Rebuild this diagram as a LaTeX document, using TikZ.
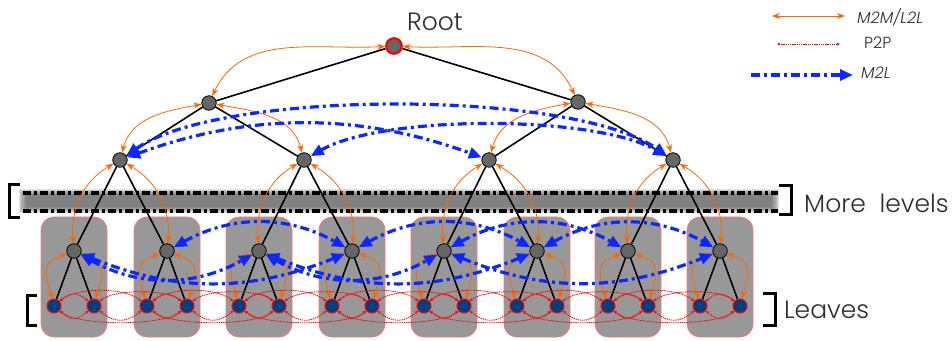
\documentclass[tikz,border=0pt]{standalone}
\usepackage{fontspec}
\setmainfont{Poppins}
\newfontfamily\thinfont{Poppins Light}
\usetikzlibrary{arrows.meta}

\pgfdeclarelayer{back}
\pgfdeclarelayer{links}
\pgfsetlayers{back,links,main}

\definecolor{orangeA}{RGB}{255,102,0}
\definecolor{blueA}{RGB}{10,40,255}
\definecolor{nodegray}{RGB}{102,102,102}
\definecolor{boxgray}{RGB}{152,152,152}
\definecolor{boxedge}{RGB}{255,118,110}
\definecolor{leafblue}{RGB}{0,64,128}
\definecolor{labelgray}{RGB}{45,45,45}

\tikzset{
  otip/.tip={Stealth[length=8pt,width=6pt]},
  btip/.tip={Triangle[length=13pt,width=11pt]},
  rtip/.tip={Stealth[length=3.4pt,width=3pt]},
  inner/.style={circle, fill=nodegray, draw=black, line width=0.8pt, minimum size=14.5pt, inner sep=0pt},
  rootnode/.style={circle, fill=nodegray, draw=red, line width=2.2pt, minimum size=15.5pt, inner sep=0pt},
  leaf/.style={circle, fill=leafblue, draw=red, line width=1pt, minimum size=14pt, inner sep=0pt},
  cell/.style={rectangle, rounded corners=13pt, fill=boxgray, draw=boxedge, line width=0.8pt,
               minimum width=66pt, minimum height=120pt, inner sep=0pt},
  tree/.style={draw=black, line width=1.6pt},
  m2m/.style={draw=orangeA, line width=0.8pt, arrows={otip-otip}},
  m2l/.style={draw=blueA, line width=3.2pt, dash pattern=on 9pt off 4pt on 3pt off 4pt, arrows={btip-btip}},
  p2p/.style={draw=red, line width=0.8pt, dash pattern=on 1.4pt off 0.8pt, arrows={rtip-rtip}},
  levelline/.style={draw=black, line width=3.4pt, dash pattern=on 8pt off 3pt on 3pt off 3pt},
  bracket/.style={draw=black, line width=3pt, line cap=butt, line join=miter},
  lbl/.style={font=\thinfont\fontsize{25}{30}\selectfont, text=labelgray, inner sep=0pt},
  lgd/.style={font=\thinfont\fontsize{16}{19}\selectfont, text=labelgray, inner sep=0pt, anchor=west},
}

\begin{document}
\begin{tikzpicture}[x=1pt,y=1pt]
\useasboundingbox (0,0) rectangle (952,340);

% ---- tree nodes ----
\node[rootnode] (root) at (394,294) {};
\node[inner] (p1) at (209,237) {};
\node[inner] (p2) at (578,238) {};
\node[inner] (q1) at (120,180) {};
\node[inner] (q2) at (304,180) {};
\node[inner] (q3) at (489,180) {};
\node[inner] (q4) at (673,180) {};
\foreach \x [count=\i] in {74,167,259,352,444,537,628,720} {
  \pgfmathtruncatemacro\lA{2*\i-1}
  \pgfmathtruncatemacro\lB{2*\i}
  \node[inner] (c\i) at (\x,89) {};
  \node[leaf] (l\lA) at (\x-20,34) {};
  \node[leaf] (l\lB) at (\x+20,34) {};
  \begin{pgfonlayer}{back}
    \node[cell] (box\i) at (\x,63) {};
  \end{pgfonlayer}
}

% ---- labels ----
\node[lbl] (troot) at (435,318) {Root};
\node[lbl, anchor=west] (tmore) at (804,137) {More\hspace{0.55em}levels};
\node[lbl, anchor=west] (tleaves) at (784,30) {Leaves};

% ---- legend ----
\coordinate (lo1) at (772,324);
\coordinate (lo2) at (845,324);
\coordinate (lp1) at (777,296);
\coordinate (lp2) at (840,296);
\coordinate (lm1) at (751,265);
\coordinate (lm2) at (853,265);
\node[lgd] (tm2m) at (857,323) {\itshape M2M/L2L};
\node[lgd] (tp2p) at (864,297) {P2P};
\node[lgd] (tm2l) at (861,267) {\itshape M2L};

\begin{pgfonlayer}{back}
  % blurred band standing for the omitted levels
  \foreach \e in {0,...,6} {
    \fill[black!70, opacity=0.16] (26-1.2*\e,133-\e) rectangle (772+1.2*\e,145+\e);
  }
  \draw[levelline] (23,147) -- (778,147);
  \draw[levelline] (23,129) -- (778,129);
  % brackets
  \draw[bracket] (20,155) -- (9,155) -- (9,122) -- (20,122);
  \draw[bracket] (779,154) -- (791,154) -- (791,125) -- (779,125);
  \draw[bracket] (37,45) -- (27,45) -- (27,15) -- (37,15);
  \draw[bracket] (763,47) -- (775,47) -- (775,15) -- (763,15);
\end{pgfonlayer}

\begin{pgfonlayer}{links}
  % tree edges
  \draw[tree] (root) -- (p1) (root) -- (p2)
              (p1) -- (q1) (p1) -- (q2) (p2) -- (q3) (p2) -- (q4);
  \foreach \i/\j in {1/1,1/2,2/3,2/4,3/5,3/6,4/7,4/8}
    \draw[tree] (q\i) -- (c\j);
  \foreach \i in {1,...,8} {
    \pgfmathtruncatemacro\lA{2*\i-1}
    \pgfmathtruncatemacro\lB{2*\i}
    \draw[tree] (c\i) -- (l\lA) (c\i) -- (l\lB);
  }

  % M2M / L2L
  \draw[m2m] (root) to[out=183,in=65] (p1);
  \draw[m2m] (root) to[out=-3,in=115] (p2);
  \foreach \p/\u/\v in {p1/q1/q2, p2/q3/q4} {
    \draw[m2m] (\p) to[out=190,in=75] (\u);
    \draw[m2m] (\p) to[out=-10,in=105] (\v);
  }
  \foreach \p/\u/\v in {q1/c1/c2, q2/c3/c4, q3/c5/c6, q4/c7/c8} {
    \draw[m2m] (\p) to[out=210,in=95] (\u);
    \draw[m2m] (\p) to[out=-30,in=85] (\v);
  }
  \foreach \i in {1,...,8} {
    \pgfmathtruncatemacro\lA{2*\i-1}
    \pgfmathtruncatemacro\lB{2*\i}
    \draw[m2m] (c\i) to[out=200,in=105,looseness=1.5] (l\lA);
    \draw[m2m] (c\i) to[out=-20,in=75,looseness=1.5] (l\lB);
  }

  % M2L, upper level
  \draw[m2l] (q1) to[out=35,in=145,looseness=0.55] (q4);
  \draw[m2l] (q1) to[out=20,in=160,looseness=0.95] (q3);
  \draw[m2l] (q2) to[out=30,in=150,looseness=0.6] (q4);

  % M2L, lower level
  \foreach \u/\v/\a in {c1/c3/29, c1/c4/22, c3/c5/29, c3/c6/22, c5/c8/22}
    \draw[m2l] (\u) to[out=-\a,in=180+\a] (\v);
  \foreach \u/\v in {c2/c4, c4/c6, c5/c7, c6/c8}
    \draw[m2l] (\u) to[out=29,in=151] (\v);

  % P2P between leaves of the same and of adjacent cells
  \foreach \k in {1,...,8} {
    \pgfmathtruncatemacro\lA{2*\k-1}
    \pgfmathtruncatemacro\lB{2*\k}
    \draw[p2p] (l\lA) to[out=-40,in=-140,distance=16pt] (l\lB);
    \draw[p2p] (l\lA) to[out=40,in=140,distance=14pt] (l\lB);
  }
  \foreach \k in {1,...,7} {
    \pgfmathtruncatemacro\lA{2*\k-1}
    \pgfmathtruncatemacro\lB{2*\k}
    \pgfmathtruncatemacro\lC{2*\k+1}
    \pgfmathtruncatemacro\lD{2*\k+2}
    \draw[p2p] (l\lA) to[out=40,in=140,distance=22pt] (l\lC);
    \draw[p2p] (l\lB) to[out=40,in=140,distance=19pt] (l\lD);
    \draw[p2p] (l\lA) to[out=-40,in=-140,distance=24pt] (l\lD);
    \draw[p2p] (l\lB) to[out=-40,in=-140,distance=19pt] (l\lC);
  }

  % legend samples
  \draw[m2m] (lo1) -- (lo2);
  \draw[p2p] (lp1) -- (lp2);
  \draw[m2l, arrows={-btip}] (lm1) -- (lm2);
\end{pgfonlayer}
\end{tikzpicture}
\end{document}
